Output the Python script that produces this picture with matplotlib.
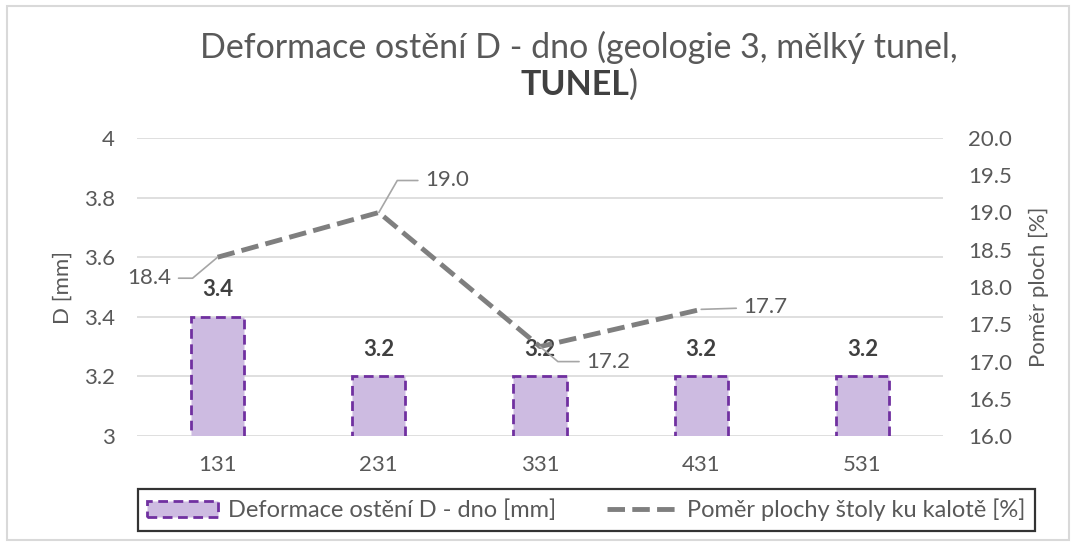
import matplotlib
matplotlib.use("Agg")
import matplotlib.pyplot as plt
from matplotlib.patches import Rectangle, Patch
from matplotlib.lines import Line2D

plt.rcParams['font.family'] = ['Lato', 'DejaVu Sans']

categories = ["131", "231", "331", "431", "531"]
deformace = [3.4, 3.2, 3.2, 3.2, 3.2]
pomer = [18.4, 19.0, 17.2, 17.7, None]
left_ticks = [3, 3.2, 3.4, 3.6, 3.8, 4]
left_tick_labels = ["3", "3.2", "3.4", "3.6", "3.8", "4"]
right_ticks = [16.0, 16.5, 17.0, 17.5, 18.0, 18.5, 19.0, 19.5, 20.0]

TXT = '#595959'
BAR_FACE = '#CDBBE1'
BAR_EDGE = '#7030A0'
LINE_C = '#7F7F7F'
BAR_DASH = (0, (3.5, 2))
LINE_DASH = (0, (3.6, 1.5))

fig = plt.figure(figsize=(10.76, 5.46), dpi=100)
ax = fig.add_axes([137/1076, 110/546, 806/1076, 298/546])
ax2 = ax.twinx()

x = list(range(len(categories)))
ax.bar(x, deformace, width=0.33, color=BAR_FACE, edgecolor=BAR_EDGE,
       linewidth=2.0, linestyle=BAR_DASH, zorder=2)
ax.set_ylim(3, 4)
ax.set_xlim(-0.5, len(categories) - 0.5)
ax.set_yticks(left_ticks)
ax.set_yticklabels(left_tick_labels)
ax.set_xticks(x)
ax.set_xticklabels(categories)
ax.grid(axis='y', color='#D9D9D9', linewidth=1.2, zorder=0)
ax.set_axisbelow(True)
for s in ax.spines.values():
    s.set_visible(False)
for s in ax2.spines.values():
    s.set_visible(False)
ax.tick_params(axis='y', length=0, labelsize=16, colors=TXT, pad=16)
ax.tick_params(axis='x', length=0, labelsize=16, colors=TXT, pad=14)
ax.set_ylabel("D [mm]", fontsize=16, color=TXT, labelpad=8)

for xi, v in zip(x, deformace):
    ax.annotate(f"{v:.1f}", (xi, v), xytext=(0, 12), textcoords='offset points',
                ha='center', va='bottom', fontsize=16, fontweight='bold', color='#404040')

px = [xi for xi, v in zip(x, pomer) if v is not None]
pv = [v for v in pomer if v is not None]
ax2.plot(px, pv, color=LINE_C, linewidth=3.5, linestyle=LINE_DASH, zorder=3)
ax2.set_ylim(16.0, 20.0)
ax2.set_yticks(right_ticks)
ax2.set_yticklabels([f"{t:.1f}" for t in right_ticks])
ax2.tick_params(axis='y', length=0, labelsize=16, colors=TXT, pad=18)
ax2.set_ylabel("Poměr ploch [%]", fontsize=16, color=TXT, rotation=90, labelpad=12)

offsets = [(-46, -21), (46, 32), (46, -15), (42, 2)]
conns = ["angle,angleA=0,angleB=40,rad=0",
         "angle,angleA=0,angleB=60,rad=0",
         "angle,angleA=0,angleB=-40,rad=0",
         "arc3,rad=0"]
for xi, v, off, cs in zip(px, pv, offsets, conns):
    ax2.annotate(f"{v:.1f}", (xi, v), xytext=off, textcoords='offset pixels',
                 ha='left' if off[0] > 0 else 'right', va='center', fontsize=16, color=TXT,
                 arrowprops=dict(arrowstyle='-', color='#A6A6A6', lw=1.2,
                                 shrinkA=3, shrinkB=0, connectionstyle=cs))

# title
fig.text(579/1076, 1 - 47/546, "Deformace ostění D - dno (geologie 3, mělký tunel,",
         ha='center', va='center', fontsize=24.5, color=TXT)
fig.text(629/1076, 1 - 85/546, "TUNEL", ha='right', va='center', fontsize=24.5,
         color='#404040', fontweight='bold')
fig.text(629/1076, 1 - 85/546, ")", ha='left', va='center', fontsize=24.5, color=TXT)

# legend
handles = [Patch(facecolor=BAR_FACE, edgecolor=BAR_EDGE, linewidth=2.0, linestyle=BAR_DASH),
           Line2D([], [], color=LINE_C, linewidth=3.5, linestyle=LINE_DASH)]
labels = ["Deformace ostění D - dno [mm]", "Poměr plochy štoly ku kalotě [%]"]
leg = fig.legend(handles, labels, loc='center', ncol=2, mode='expand',
                 bbox_to_anchor=(138/1076, 1 - 532/546, 897/1076, 44/546),
                 fontsize=17, frameon=True, fancybox=False, edgecolor='black',
                 handlelength=3.0, handletextpad=0.4, columnspacing=1.0,
                 borderpad=0.4, borderaxespad=0)
leg.get_frame().set_linewidth(1.6)
for t in leg.get_texts():
    t.set_color(TXT)

fig.patches.append(Rectangle((7/1076, 6/546), 1062/1076, 1 - 12/546,
                             transform=fig.transFigure, fill=False,
                             edgecolor='#D9D9D9', linewidth=1.5))

fig.savefig("out.png", dpi=100)
